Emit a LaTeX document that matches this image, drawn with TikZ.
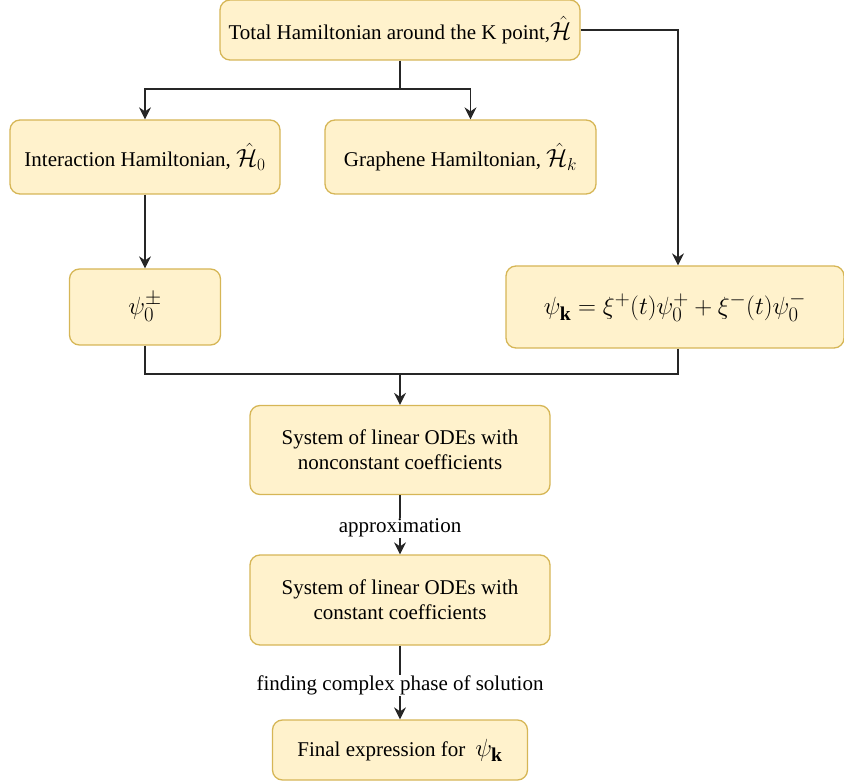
\documentclass[tikz,border=0pt]{standalone}
\usepackage{fontspec}
\setmainfont{Liberation Serif}
\usetikzlibrary{arrows.meta}
\definecolor{boxfill}{HTML}{FFF2CC}
\definecolor{boxline}{HTML}{D6B656}
\newcommand{\mth}[1]{{\fontsize{25}{30}\selectfont$#1$}}
\newcommand{\bigmth}[1]{{\fontsize{28}{34}\selectfont$#1$}}
\begin{document}
\begin{tikzpicture}[x=1pt,y=-1pt,>={Stealth[length=12pt,width=12pt,inset=4pt]},font=\fontsize{21}{25}\selectfont]
\useasboundingbox(0,0)rectangle(844,783);
\coordinate(J1)at(400,89);
\coordinate(J2)at(400,374);
\begin{scope}[every node/.style={draw=boxline,fill=boxfill,line width=1.3pt,rounded corners=10pt,inner sep=0,align=center}]
\node[minimum width=360pt,minimum height=60pt](tot)at(400,30){Total Hamiltonian around the K point,\mth{\hat{\mathcal H}}};
\node[minimum width=270pt,minimum height=74pt](inter)at(145,157){Interaction Hamiltonian, \mth{\hat{\mathcal H}_0}};
\node[minimum width=271pt,minimum height=74pt](graph)at(460.5,157){Graphene Hamiltonian, \mth{\hat{\mathcal H}_k}};
\node[minimum width=151pt,minimum height=76pt](psi0)at(145,307){\bigmth{\psi_0^\pm}};
\node[minimum width=338pt,minimum height=82pt](psik)at(675,307){\bigmth{\psi_{\mathbf k}=\xi^+(t)\psi_0^+ +\xi^-(t)\psi_0^-}};
\node[minimum width=300pt,minimum height=89pt](sys1)at(400,450){System of linear ODEs with\\nonconstant coefficients};
\node[minimum width=300pt,minimum height=90pt](sys2)at(400,600){System of linear ODEs with\\constant coefficients};
\node[minimum width=255pt,minimum height=60pt](fin)at(400,750){Final expression for\hspace{10pt}\bigmth{\psi_{\mathbf k}}};
\end{scope}
\begin{scope}[line width=1.3pt,draw=black!85]
\draw(tot.south)--(J1);
\draw[->](J1)-|(inter.north);
\draw[->](J1)-|([xshift=10pt]graph.north);
\draw[->](tot.east)-|([xshift=3pt]psik.north);
\draw[->](inter.south)--(psi0.north);
\draw(psi0.south)|-(J2);
\draw([xshift=3pt]psik.south)|-(J2);
\draw[->](J2)--(sys1.north);
\draw[->](sys1.south)--(sys2.north)node[midway,fill=white,inner sep=1pt,yshift=-3pt]{approximation};
\draw[->](sys2.south)--(fin.north)node[midway,fill=white,inner sep=1pt,yshift=-3pt]{finding complex phase of solution};
\end{scope}
\end{tikzpicture}
\end{document}
